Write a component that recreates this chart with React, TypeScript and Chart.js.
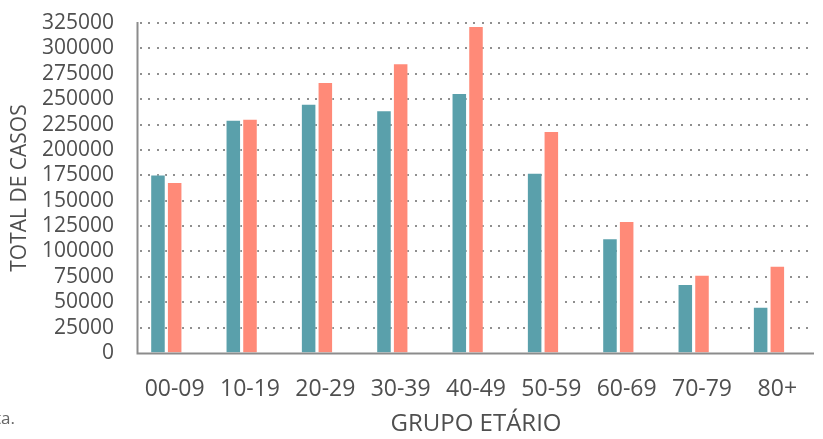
import React, { useEffect, useRef } from "react";
import { Chart, registerables } from "chart.js";

Chart.register(...registerables);

const categories = ["00-09", "10-19", "20-29", "30-39", "40-49", "50-59", "60-69", "70-79", "80+"];
const serieA = [175800, 229600, 245500, 239100, 256100, 177400, 113000, 67900, 45600];
const serieB = [168400, 230600, 266900, 285300, 322000, 218700, 130000, 77000, 85900];
const serieC: (number | null)[] = [null, null, null, null, null, null, null, null, null];

const yMin = 0;
const yMax = 325000;
const yStep = 25000;

const TEAL = "#5AA0AB";
const SALMON = "#FF8A78";
const TEXT = "#4f4f4f";
const AXIS = "#8c8c8c";
const FONT = "'Open Sans', 'Noto Sans', sans-serif";

const axesPlugin = {
  id: "customAxes",
  beforeDatasetsDraw(chart: any) {
    const { ctx, chartArea, scales } = chart;
    const y = scales.y;
    ctx.save();
    ctx.fillStyle = "#8f8f8f";
    for (let v = yMin + yStep; v <= yMax; v += yStep) {
      const py = Math.round(y.getPixelForValue(v));
      for (let px = chartArea.left + 3; px < chartArea.right - 2; px += 8.33) {
        ctx.fillRect(Math.round(px), py - 1, 2, 2);
      }
    }
    ctx.restore();
  },
  afterDatasetsDraw(chart: any) {
    const { ctx, chartArea, scales } = chart;
    const y = scales.y;
    const y0 = y.getPixelForValue(0);
    const yTop = y.getPixelForValue(yMax);
    ctx.save();
    ctx.strokeStyle = AXIS;
    ctx.lineWidth = 2;
    ctx.beginPath();
    ctx.moveTo(chartArea.left + 0.5, yTop - 1);
    ctx.lineTo(chartArea.left + 0.5, y0 + 1);
    ctx.moveTo(chartArea.left - 0.5, y0 + 0.5);
    ctx.lineTo(chartArea.right - 1, y0 + 0.5);
    ctx.stroke();
    ctx.restore();
  },
};

export default function App() {
  const ref = useRef<HTMLCanvasElement | null>(null);

  useEffect(() => {
    if (!ref.current) return;
    const chart = new Chart(ref.current, {
      type: "bar",
      data: {
        labels: categories,
        datasets: [
          {
            label: "Masculino",
            data: serieA,
            backgroundColor: TEAL,
            borderColor: "rgba(255,255,255,0.35)",
            borderWidth: 1,
          },
          {
            label: "Feminino",
            data: serieB,
            backgroundColor: SALMON,
            borderColor: "rgba(255,255,255,0.35)",
            borderWidth: 1,
          },
          {
            label: "",
            data: serieC,
            backgroundColor: "rgba(0,0,0,0)",
          },
        ],
      },
      options: {
        responsive: false,
        animation: false,
        devicePixelRatio: 1,
        layout: { padding: { left: 0, right: 8, top: 23, bottom: 0 } },
        plugins: {
          legend: { display: false },
          tooltip: { enabled: false },
        },
        datasets: {
          bar: {
            categoryPercentage: 0.665,
            barPercentage: 0.93,
          },
        },
        scales: {
          x: {
            grid: { display: false, drawTicks: false },
            border: { display: false },
            ticks: {
              color: TEXT,
              font: { family: FONT, size: 23 },
              padding: 23,
              maxRotation: 0,
              autoSkip: false,
            },
            title: {
              display: true,
              text: "GRUPO ETÁRIO",
              color: TEXT,
              font: { family: FONT, size: 24 },
              padding: { top: -2, bottom: 0 },
            },
            afterFit: (s: any) => {
              s.height = 86;
            },
          },
          y: {
            min: yMin,
            max: yMax,
            grid: {
              display: true,
              drawOnChartArea: false,
              drawTicks: true,
              tickLength: 23,
              color: "rgba(0,0,0,0)",
              tickColor: "rgba(0,0,0,0)",
            },
            border: { display: false },
            ticks: {
              stepSize: yStep,
              color: TEXT,
              font: { family: FONT, size: 21 },
              padding: 0,
              autoSkip: false,
              callback: (v: any) => String(v),
            },
            title: {
              display: true,
              text: "TOTAL DE CASOS",
              color: TEXT,
              font: { family: FONT, size: 21 },
              padding: { top: 7, bottom: 0 },
            },
            afterFit: (s: any) => {
              s.width = 137;
            },
          },
        },
      },
      plugins: [axesPlugin],
    });
    return () => chart.destroy();
  }, []);

  return (
    <div
      style={{
        position: "fixed",
        left: 0,
        top: 0,
        width: 823,
        height: 439,
        background: "#fff",
        overflow: "hidden",
      }}
    >
      <canvas ref={ref} width={823} height={439} style={{ display: "block" }} />
      <div
        style={{
          position: "absolute",
          left: -5,
          top: 406,
          fontFamily: FONT,
          fontSize: 17,
          color: "#666",
          whiteSpace: "nowrap",
        }}
      >
        ta.
      </div>
    </div>
  );
}
